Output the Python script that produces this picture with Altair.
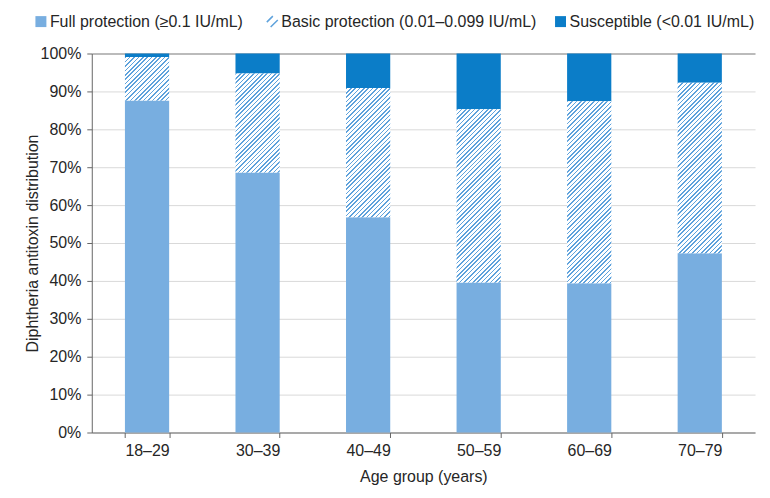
import altair as alt
import pandas as pd

ages = ["18–29", "30–39", "40–49", "50–59", "60–69", "70–79"]
full = [87.6, 68.6, 56.8, 39.6, 39.4, 47.3]
basic = [11.5, 26.1, 34.1, 45.7, 48.0, 45.0]
susc = [0.9, 5.3, 9.1, 14.7, 12.6, 7.7]
cats = ["Full protection (≥0.1 IU/mL)",
        "Basic protection (0.01–0.099 IU/mL)",
        "Susceptible (<0.01 IU/mL)"]

C_FULL = "#78aee0"
C_SUSC = "#0b7dc8"
C_HATCH = "#5ea2dc"
TXT = "#262626"
FONT = "Liberation Sans"

W, H = 665, 380
PAD_IN = 0.6

wide = pd.DataFrame({"age": ages, "full": full, "basic": basic, "susc": susc})

xscale = alt.Scale(paddingInner=PAD_IN, paddingOuter=PAD_IN / 2)
yscale = alt.Scale(domain=[0, 100])

x_axis = alt.Axis(labelAngle=0, tickBand="extent", tickSize=5,
                  labelPadding=5, titlePadding=10, domainColor="#666",
                  tickColor="#666", grid=False)
y_axis = alt.Axis(values=list(range(0, 101, 10)), labelExpr="datum.value + '%'",
                  tickSize=5, labelPadding=6, titlePadding=-1,
                  domainColor="#666", tickColor="#666",
                  gridColor={"condition": {"test": "datum.value === 100", "value": "#777"},
                             "value": "#d9d9d9"})
XT = "Age group (years)"
YT = "Diphtheria antitoxin distribution"


def xenc():
    return alt.X("age:N", sort=ages, title=XT, scale=xscale, axis=x_axis)


def yenc():
    return alt.Y("lo:Q", title=YT, scale=yscale, axis=y_axis)


def leg(x, **kw):
    d = dict(title=None, orient="none", direction="horizontal",
             legendX=x, legendY=-40, labelFontSize=16, labelFont=FONT,
             labelColor=TXT, labelLimit=0, symbolSize=121, labelOffset=1)
    d.update(kw)
    return alt.Legend(**d)


full_layer = alt.Chart(wide).transform_calculate(
    lo="0", hi="datum.full", cat="'%s'" % cats[0]
).mark_bar().encode(
    x=xenc(), y=yenc(), y2="hi:Q",
    color=alt.Color("cat:N", scale=alt.Scale(domain=[cats[0]], range=[C_FULL]),
                    legend=leg(-59, symbolType="square")),
)

susc_layer = alt.Chart(wide).transform_calculate(
    lo="datum.full + datum.basic", hi="datum.full + datum.basic + datum.susc",
    cat="'%s'" % cats[2]
).mark_bar().encode(
    x=xenc(), y=yenc(), y2="hi:Q",
    color=alt.Color("cat:N", scale=alt.Scale(domain=[cats[2]], range=[C_SUSC]),
                    legend=leg(462, symbolType="square")),
)

legend_basic = alt.Chart(wide).transform_calculate(
    lo="datum.full", cat="'%s'" % cats[1]
).mark_point(filled=False, opacity=0).encode(
    x=xenc(), y=yenc(),
    color=alt.Color("cat:N", scale=alt.Scale(domain=[cats[1]], range=[C_HATCH]),
                    legend=leg(173, symbolType="M-1,0.1L0.1,-1M-0.3,1L1,-0.3",
                               symbolFillColor="transparent", symbolStrokeWidth=1.5,
                               symbolOpacity=1)),
)

layers = [full_layer, susc_layer]
band = (W / len(ages)) * (1 - PAD_IN)
period = 4.4
lw = 1.6
for i, a in enumerate(ages):
    w = band
    h = basic[i] * H / 100.0
    s = (w + h) / (w * w + h * h)
    n = (w + h) / period
    stops = []
    k = 0
    while k < n:
        o0 = k / n
        o1 = min((k + lw / period) / n, 1.0)
        o2 = min((k + 1) / n, 1.0)
        stops += [{"offset": o0, "color": C_HATCH}, {"offset": o1, "color": C_HATCH},
                  {"offset": o1, "color": "#ffffff"}, {"offset": o2, "color": "#ffffff"}]
        k += 1
    grad = {"gradient": "linear", "x1": 0, "y1": 0, "x2": s * w, "y2": s * h, "stops": stops}
    layer = alt.Chart(wide).transform_filter(alt.datum.age == a).transform_calculate(
        lo="datum.full", hi="datum.full + datum.basic"
    ).mark_bar(fill=grad, strokeWidth=0).encode(
        x=xenc(), y=yenc(), y2="hi:Q",
    )
    layers.append(layer)
layers.append(legend_basic)

chart = alt.layer(*layers).resolve_scale(color="independent").resolve_legend(
    color="independent"
).properties(
    width=W, height=H, background="white",
    autosize=alt.AutoSizeParams(type="none"),
    padding={"left": 84, "top": 45, "right": 7, "bottom": 55},
).configure_view(stroke=None).configure_axis(
    labelFont=FONT, labelFontSize=16, labelColor=TXT,
    titleFont=FONT, titleFontSize=16, titleColor=TXT, titleFontWeight="normal",
).configure_legend(padding=0)

chart.save("out.html", embed_options={"renderer": "svg", "actions": False})
